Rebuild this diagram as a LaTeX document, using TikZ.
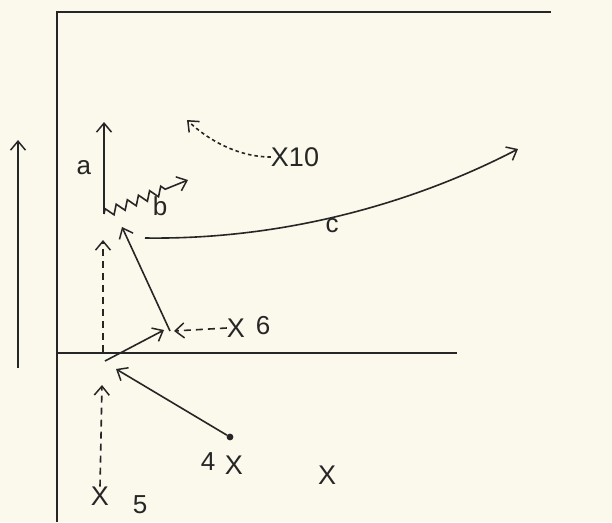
\documentclass[tikz,border=0pt]{standalone}
\usepackage{fontspec}
\setmainfont{Liberation Sans}
\usetikzlibrary{arrows.meta,decorations.pathmorphing}
\definecolor{paper}{HTML}{FBF8EC}
\definecolor{ink}{HTML}{262626}
\tikzset{
  field/.style={ink,line width=1.7pt},                          % pitch lines
  pass/.style={ink,line width=1.6pt,-{Straight Barb[length=9pt,width=15pt,line width=1.5pt]}},
  run/.style={pass,dash pattern=on 7pt off 5pt},
  drift/.style={pass,dash pattern=on 3.5pt off 3pt},
  dribble/.style={pass,decorate,decoration={zigzag,segment length=12pt,amplitude=4.5pt,post length=24pt}},
  player/.style={ink,font=\fontsize{27}{27}\selectfont,inner sep=0pt},
  tag/.style={ink,font=\fontsize{26}{26}\selectfont,inner sep=0pt},
  ball/.style={circle,fill=ink,inner sep=2.4pt},
}

\begin{document}
\begin{tikzpicture}[x=1pt,y=-1pt]
  \useasboundingbox (0,0) rectangle (612,522);
  \fill[paper] (0,0) rectangle (612,522);
  % pitch
  \draw[field] (551,12) -- (57,12) -- (57,522);
  \draw[field] (57,353) -- (457,353);
  % players
  \node[player] (p10) at (295,157) {X10};
  \node[player] (p6) at (236,328) {X};
  \node[tag] at (263,326) {6};
  \node[player] (p4) at (234,465) {X};
  \node[tag] at (208,462) {4};
  \node[player] (p5) at (100,496) {X};
  \node[tag] at (140,505) {5};
  \node[player] (px) at (327,475) {X};
  \node[ball] (ball) at (230,437) {};
  % points
  \coordinate (lo) at (18,368);
  \coordinate (hi) at (18,140);
  \coordinate (o) at (104,214);
  \coordinate (atip) at (104,122);
  \coordinate (btip) at (188,180);
  \coordinate (cstart) at (145,238);
  \coordinate (ctip) at (518,149);
  \coordinate (t10) at (187,120);
  \coordinate (q) at (170,331);
  \coordinate (k) at (122,227);
  \coordinate (m0) at (103,352);
  \coordinate (m1) at (103,240);
  \coordinate (u5) at (102,385);
  \coordinate (x4) at (116,369);
  \coordinate (r0) at (105,361);
  \coordinate (r1) at (164,330);
  % moves
  \draw[pass] (lo) -- (hi);
  \draw[pass] (o) -- (atip) node[tag,midway,left=12pt] {a};
  \draw[dribble] (o) -- (btip);
  \node[tag] at (160,206) {b};
  \draw[pass] (cstart) .. controls (290,240) and (420,200) .. (ctip);
  \node[tag] at (332,226) {c};
  \draw[drift] (p10.west) .. controls (238,157) and (208,140) .. (t10);
  \draw[pass] (q) -- (k);
  \draw[run] (p6.west) -- ([xshift=4pt]q);
  \draw[run] (m0) -- (m1);
  \draw[run] (p5.north) -- (u5);
  \draw[pass] (ball) -- (x4);
  \draw[pass] (r0) -- (r1);
\end{tikzpicture}
\end{document}
